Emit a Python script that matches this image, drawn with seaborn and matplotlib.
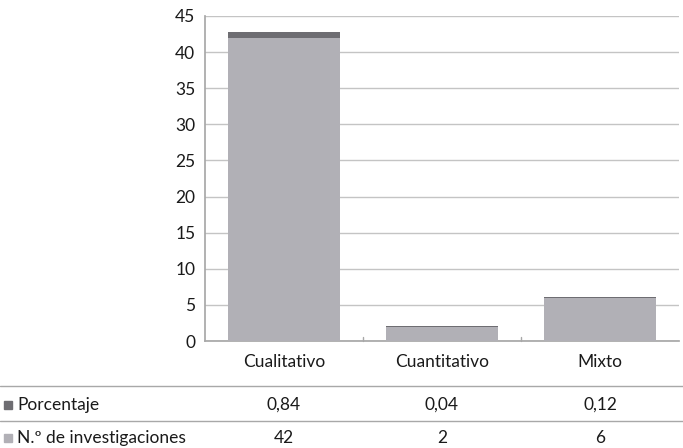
import matplotlib
matplotlib.use('Agg')
import matplotlib.pyplot as plt
import matplotlib.transforms as mtransforms
from matplotlib.patches import Rectangle
import seaborn as sns

categorias = ['Cualitativo', 'Cuantitativo', 'Mixto']
n_investigaciones = [42, 2, 6]
porcentaje = [0.84, 0.04, 0.12]
etiquetas_pct = ['0,84', '0,04', '0,12']
series = ['Porcentaje', 'N.º de investigaciones']

COLOR_INV = '#b1b0b6'
COLOR_PCT = '#6e6d72'
GRID = '#c4c4c4'
TEXT = '#1a1a1a'

sns.set_theme(style="white")
plt.rcParams['font.family'] = ['Lato', 'DejaVu Sans']

fig = plt.figure(figsize=(6.83, 4.48), dpi=100)
ax = fig.add_axes([205 / 683, 1 - 341 / 448, 474 / 683, 325 / 448])

sns.barplot(x=categorias, y=n_investigaciones, color=COLOR_INV,
            width=0.71, saturation=1, linewidth=0, ax=ax, zorder=3)
sns.barplot(x=categorias, y=porcentaje, bottom=n_investigaciones,
            color=COLOR_PCT, width=0.71, saturation=1, linewidth=0,
            ax=ax, zorder=3)

ax.set_ylim(0, 45)
ax.set_xlim(-0.5, 2.5)
ax.set_yticks(range(0, 46, 5))
ax.yaxis.grid(True, color=GRID, linewidth=1)
ax.set_axisbelow(True)
for s in ['top', 'right']:
    ax.spines[s].set_visible(False)
for s in ['left', 'bottom']:
    ax.spines[s].set_color('#a8a8a8')
ax.tick_params(axis='y', labelsize=12.5, colors=TEXT, length=0, pad=7)
ax.tick_params(axis='x', labelsize=12.5, colors=TEXT, length=0, pad=9)
ax.set_xlabel('')
ax.set_ylabel('')

# small category separator ticks on the x axis
for xb in [0.5, 1.5]:
    ax.plot([xb, xb], [0, 0.6], color='#a8a8a8', lw=1, clip_on=False, zorder=4)

# data table below the chart
trans = mtransforms.blended_transform_factory(ax.transData, fig.transFigure)
for yl in [1 - 386 / 448, 1 - 421 / 448]:
    fig.add_artist(plt.Line2D([0, 1], [yl, yl], color='#a8a8a8', lw=1,
                              transform=fig.transFigure))

filas = [(1 - 405 / 448, series[0], COLOR_PCT, etiquetas_pct),
         (1 - 438 / 448, series[1], COLOR_INV, [str(v) for v in n_investigaciones])]
for y, nombre, col, vals in filas:
    fig.add_artist(Rectangle((4 / 683, y - 4 / 448), 8 / 683, 8 / 448,
                             transform=fig.transFigure, color=col))
    fig.text(17 / 683, y, nombre, fontsize=12.5, color=TEXT, va='center')
    for i, v in enumerate(vals):
        ax.text(i, y, v, transform=trans, fontsize=12.5, color=TEXT,
                ha='center', va='center', clip_on=False)

fig.savefig('out.png', dpi=100)
